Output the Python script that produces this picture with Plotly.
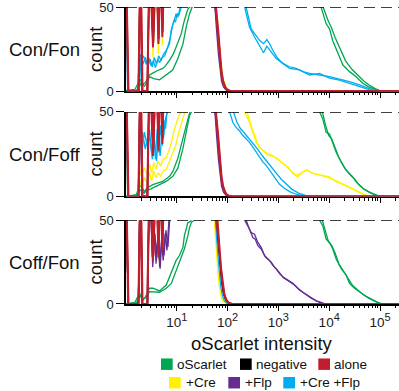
import plotly.graph_objects as go

# ---------------- data (intensity, count) ----------------
panels = ["Con/Fon", "Con/Foff", "Coff/Fon"]
legend_names = ["oScarlet", "negative", "alone", "+Cre", "+Flp", "+Cre +Flp"]
colors = {"oScarlet": "#00A651", "negative": "#000000", "alone": "#BE1E2D",
          "+Cre": "#FFF200", "+Flp": "#662D91", "+Cre +Flp": "#00AEEF"}
x_tick_vals = [10, 100, 1000, 10000, 100000]
x_tick_exp = ["1", "2", "3", "4", "5"]
y_tick_vals = [0, 50]

# ---- panel 1 : Con/Fon ----
p1_green_a_x = [1.0, 1.5, 1.75, 1.9, 2.1, 2.4, 2.69, 2.9, 3.5, 4.0, 5.3, 6.0, 7.2, 8.5, 9.7, 12.2, 14.1, 16.5, 19, 22, 6000, 6950, 8710, 10140, 11750, 14790, 18620, 25120, 33880, 45710, 61660, 85110, 104700, 250000]
p1_green_a_y = [0.5, 1, 5, 7, 4, 5, 8, 9.6, 11, 12, 13.5, 15, 18.4, 22, 26.3, 34, 42, 48.8, 50.5, 60, 60, 49.8, 40, 37, 30, 22.4, 15.5, 11.6, 8.6, 4.7, 2.4, 0.8, 0, 0]
p1_green_b_x = [1.0, 1.6, 1.85, 2.0, 2.3, 2.6, 2.9, 3.5, 4.57, 5.2, 6.17, 7.0, 8.3, 10.5, 13.2, 15.3, 17.8, 20, 23, 7000, 7600, 9500, 11000, 13000, 16500, 21000, 28000, 37000, 48000, 62000, 80000, 100000, 110000, 250000]
p1_green_b_y = [0, 0.5, 3, 5, 3, 5, 8.6, 7.5, 6.7, 8, 9.6, 11, 12.5, 19.4, 28, 38, 45.9, 49.8, 60, 60, 49.8, 42, 38, 32, 25, 18, 13, 9.5, 6, 3.5, 1.5, 0.3, 0, 0]
p1_black_x = [1.0, 1.1, 1.75, 1.92, 2.08, 2.65, 2.9, 3.4, 3.9, 4.35, 4.8, 5.2, 5.6, 50, 57.5, 63, 69, 74, 79, 87, 93, 105, 126, 250000]
p1_black_y = [80, 0, 0, 80, 0, 0, 80, 30, 80, 34, 80, 38, 80, 80, 50, 38, 22, 13, 6.5, 3, 1.2, 0.3, 0, 0]
p1_yellow_x = [1.0, 1.1, 1.75, 1.92, 2.08, 2.65, 2.9, 3.4, 3.9, 4.35, 4.8, 5.2, 5.6, 52, 60, 66, 72, 80, 88, 100, 120, 250000]
p1_yellow_y = [80, 0, 0, 80, 0, 0, 80, 20, 80, 22, 80, 27, 80, 80, 50, 35, 20, 9, 4, 1, 0, 0]
p1_purple_x = [1.0, 1.1, 1.75, 1.92, 2.08, 2.65, 2.9, 3.4, 3.9, 4.35, 4.8, 5.2, 5.6, 48, 55, 60, 66, 71, 76, 83, 92, 105, 250000]
p1_purple_y = [80, 0, 0, 80, 0, 0, 80, 27, 80, 29, 80, 33, 80, 80, 50, 38, 22, 12, 6, 2.5, 0.8, 0, 0]
p1_blue_a_x = [1.0, 1.08, 1.8, 1.95, 2.15, 2.4, 2.7, 3.0, 3.3, 3.6, 4.0, 4.4, 4.9, 5.5, 6.2, 7.2, 7.7, 8.4, 9.0, 9.7, 10.5, 11.3, 12.2, 14, 200, 232, 291, 365, 425, 509, 592, 668, 776, 975, 1222, 1656, 2239, 3027, 4093, 6442, 10140, 15960, 25120, 39540, 62090, 84140, 250000]
p1_blue_a_y = [80, 0, 0, 22, 16, 20, 15, 19, 14.5, 20, 16, 21, 18, 22, 24.3, 28.2, 36, 40, 44, 46, 44, 48, 50.5, 60, 60, 49.8, 37, 33.1, 30.2, 28.2, 30.6, 28.2, 24.3, 19.4, 16.5, 14.5, 13.5, 11.6, 10.6, 9.6, 8.6, 7.1, 5.7, 3.7, 1.2, 0, 0]
p1_blue_b_x = [1.0, 1.08, 1.8, 1.95, 2.2, 2.5, 2.8, 3.1, 3.45, 3.8, 4.2, 4.6, 5.1, 5.8, 6.6, 7.5, 8.1, 8.8, 9.4, 10.2, 11, 11.8, 12.8, 15, 180, 215, 270, 339, 425, 509, 592, 721, 904, 1222, 1656, 2600, 4093, 6442, 10140, 15960, 25120, 39810, 63100, 89000, 250000]
p1_blue_b_y = [80, 0, 0, 18, 21, 16, 20, 15, 18, 14, 19, 17, 20, 21, 26, 32, 38, 42, 41, 46, 45, 49, 52, 60, 60, 49.8, 38, 32.2, 27.3, 22.8, 26.7, 23.3, 19.4, 16.5, 13.5, 12.6, 9.6, 10.6, 7.7, 6.5, 4.5, 2.5, 0.8, 0, 0]
p1_red_a_x = [1.0, 1.1, 1.75, 1.92, 2.08, 2.65, 2.9, 3.4, 3.9, 4.35, 4.8, 5.2, 5.6, 50, 57.5, 63, 69, 74, 79, 87, 93, 105, 126, 250000]
p1_red_a_y = [80, 0, 0, 80, 0, 0, 80, 26, 80, 28, 80, 32, 80, 80, 50, 38, 22, 13, 6.5, 3, 1.2, 0.3, 0, 0]
p1_red_b_x = [1.0, 1.12, 1.78, 1.95, 2.12, 2.6, 2.95, 3.45, 3.95, 4.4, 4.85, 5.25, 5.7, 52, 59, 65, 71, 76, 82, 90, 98, 112, 130, 250000]
p1_red_b_y = [80, 0, 0, 80, 0, 0, 80, 29, 80, 31, 80, 35, 80, 80, 50, 37, 21, 12, 6, 2.5, 1, 0.2, 0, 0]

# ---- panel 2 : Con/Foff ----
p2_green_a_x = [1.0, 1.6, 1.85, 2.05, 2.3, 2.6, 2.9, 3.37, 5.3, 7.2, 8.35, 10.5, 12.2, 14.2, 16.5, 17.8, 22, 6000, 6442, 7499, 8710, 10140, 11750, 13710, 17220, 21580, 29170, 33960, 45920, 62090, 84140, 97700, 250000]
p2_green_a_y = [0, 1, 7, 5, 3, 5, 6, 7, 8.9, 11.9, 14.8, 22.6, 30.3, 38.1, 45.9, 50.7, 60, 60, 50.2, 45.7, 37.9, 36.9, 32, 26.2, 20.4, 15.5, 11.6, 8.7, 4.8, 2.5, 1.0, 0, 0]
p2_green_b_x = [1.0, 1.6, 1.85, 2.05, 2.3, 2.6, 2.9, 4.57, 6.17, 8.35, 10.5, 13.2, 15.3, 17.8, 20, 24, 6800, 7300, 8500, 9800, 11200, 13000, 15500, 19500, 24500, 32000, 38000, 50000, 66000, 88000, 105000, 250000]
p2_green_b_y = [0, 0.5, 4, 3, 2, 4, 4.1, 7, 8.9, 11.9, 16.7, 28.4, 38.1, 47.8, 50.7, 60, 60, 50.2, 42, 36, 34, 29, 23, 17.5, 13.5, 10, 7, 4, 2, 0.5, 0, 0]
p2_black_x = [1.0, 1.1, 1.75, 1.92, 2.08, 2.65, 2.9, 3.4, 3.9, 4.35, 4.8, 5.2, 5.6, 50, 57.5, 63, 69, 74, 79, 87, 93, 105, 126, 250000]
p2_black_y = [80, 0, 0, 80, 0, 0, 80, 30, 80, 34, 80, 38, 80, 80, 50, 38, 22, 13, 6.5, 3, 1.2, 0.3, 0, 0]
p2_yellow_a_x = [1.0, 1.08, 1.7, 1.85, 2.0, 2.3, 2.6, 2.9, 3.2, 3.5, 3.9, 4.3, 4.8, 5.4, 6.2, 7.0, 8.0, 9.0, 10.5, 12.2, 14, 180, 215, 270, 314, 365, 425, 494, 619, 776, 975, 1222, 1535, 1923, 2415, 3027, 3793, 4764, 5970, 7499, 10140, 13710, 18540, 25120, 33960, 45920, 53460, 67000, 250000]
p2_yellow_a_y = [80, 0, 0, 16, 12, 17, 13, 19, 14, 20, 16, 21, 18, 22, 23, 27, 33, 40, 46, 51, 60, 60, 50.2, 43.7, 37.9, 32, 29.1, 27.2, 24.3, 23.9, 22.3, 19.4, 17.5, 13.6, 11.6, 14.6, 15.5, 13.6, 13.0, 12.6, 11.6, 8.7, 7.2, 5.2, 3.3, 1.3, 0.4, 0, 0]
p2_yellow_b_x = [1.0, 1.08, 1.7, 1.85, 2.0, 2.3, 2.6, 2.9, 3.2, 3.5, 3.9, 4.3, 4.8, 5.4, 6.2, 7.0, 8.0, 9.5, 11, 13, 15.3, 18, 200, 240, 291, 339, 394, 458, 574, 721, 904, 1133, 1422, 1782, 2239, 2806, 3524, 4416, 5534, 7499, 10140, 13710, 18540, 25120, 33960, 45920, 57540, 72440, 250000]
p2_yellow_b_y = [80, 0, 0, 10, 6, 11, 8, 14, 9, 15, 11, 14, 12, 15, 16, 20, 24, 30, 38, 45, 51, 60, 60, 50.2, 42, 36, 31, 28, 26, 24.6, 22.5, 20.5, 18, 15, 12.5, 13.8, 15.8, 14, 13.2, 12.2, 11.0, 9.2, 7.5, 5.6, 3.6, 1.6, 0.4, 0, 0]
p2_purple_x = [1.0, 1.1, 1.75, 1.92, 2.08, 2.65, 2.9, 3.4, 3.9, 4.35, 4.8, 5.2, 5.6, 48, 55, 60, 66, 71, 76, 83, 92, 105, 250000]
p2_purple_y = [80, 0, 0, 80, 0, 0, 80, 27, 80, 29, 80, 33, 80, 80, 50, 38, 22, 12, 6, 2.5, 0.8, 0, 0]
p2_blue_a_x = [1.0, 1.08, 1.75, 1.9, 2.05, 2.3, 2.6, 2.9, 3.2, 3.5, 3.8, 4.1, 4.4, 4.8, 5.2, 5.6, 6.0, 6.5, 8, 90, 109, 127, 147, 171, 200, 232, 270, 314, 365, 425, 494, 574, 668, 776, 904, 1052, 1318, 1656, 2239, 3027, 4093, 250000]
p2_blue_a_y = [80, 0, 0, 34, 26, 38, 30, 40, 25, 36, 22, 40, 26, 42, 30, 45, 40, 52, 60, 60, 50.2, 43.7, 40.8, 38.9, 36, 34, 32, 29.1, 26.2, 23.3, 20.4, 18.4, 15.5, 12.6, 9.7, 7.2, 4.8, 2.9, 1.3, 0.4, 0, 0]
p2_blue_b_x = [1.0, 1.08, 1.75, 1.9, 2.1, 2.4, 2.7, 3.0, 3.3, 3.6, 4.0, 4.3, 4.7, 5.1, 5.5, 6.0, 6.8, 8.5, 110, 130, 152, 180, 214, 250, 291, 340, 400, 470, 560, 670, 800, 950, 1150, 1450, 1850, 2500, 3400, 4600, 250000]
p2_blue_b_y = [80, 0, 0, 30, 38, 28, 36, 33, 22, 34, 21, 36, 24, 38, 35, 46, 52, 60, 60, 50.2, 44, 40, 37.5, 35, 33, 30.5, 27.5, 24.5, 21.5, 19, 16, 13, 10, 7, 4.2, 2, 0.6, 0, 0]
p2_red_a_x = [1.0, 1.1, 1.75, 1.92, 2.08, 2.65, 2.9, 3.4, 3.9, 4.35, 4.8, 5.2, 5.6, 50, 57.5, 63, 69, 74, 79, 87, 93, 105, 126, 250000]
p2_red_a_y = [80, 0, 0, 80, 0, 0, 80, 24, 80, 27, 80, 31, 80, 80, 50, 38, 22, 13, 6.5, 3, 1.2, 0.3, 0, 0]
p2_red_b_x = [1.0, 1.12, 1.78, 1.95, 2.12, 2.6, 2.95, 3.45, 3.95, 4.4, 4.85, 5.25, 5.7, 52, 59, 65, 71, 76, 82, 90, 98, 112, 130, 250000]
p2_red_b_y = [80, 0, 0, 80, 0, 0, 80, 28, 80, 30, 80, 34, 80, 80, 50, 37, 21, 12, 6, 2.5, 1, 0.2, 0, 0]

# ---- panel 3 : Coff/Fon ----
p3_green_a_x = [1.0, 1.5, 1.85, 2.1, 2.4, 2.9, 3.4, 4.57, 6.2, 7.2, 8.4, 9.7, 11.3, 13.2, 14.1, 15.3, 16.5, 19, 22, 6000, 6442, 7499, 8710, 10140, 11750, 13710, 17220, 21580, 25120, 31480, 39540, 53460, 72270, 97700, 113800, 250000]
p3_green_a_y = [0, 1, 6.6, 2, 4, 9.4, 9.5, 7.8, 11.3, 16.2, 21, 26, 28.9, 33.8, 40.6, 45.5, 48.4, 49.4, 60, 60, 50, 46.5, 38.7, 36.7, 32.8, 26.9, 21.1, 17.2, 12.3, 9.4, 7.4, 4.5, 2.5, 0.4, 0, 0]
p3_green_b_x = [1.0, 1.6, 1.9, 2.15, 2.5, 2.9, 4.57, 6.2, 7.8, 9.0, 10.5, 12.2, 14.1, 16.5, 17.8, 19.5, 22.4, 26, 6800, 7300, 8300, 9700, 11200, 13000, 15500, 19500, 24000, 29000, 36000, 45000, 60000, 80000, 105000, 120000, 250000]
p3_green_b_y = [0, 0.5, 5, 3, 4, 7.4, 7, 9.4, 12.3, 17.2, 23, 27, 32.8, 40.6, 45.5, 48.8, 50, 60, 60, 50, 44, 37, 35, 30.5, 24, 19, 14.5, 11, 8.5, 6, 3.5, 1.5, 0.2, 0, 0]
p3_black_x = [1.0, 1.1, 1.75, 1.92, 2.08, 2.65, 2.9, 3.4, 3.9, 4.35, 4.8, 5.2, 5.6, 50, 58, 64, 70, 76, 82, 90, 98, 110, 130, 250000]
p3_black_y = [80, 0, 0, 80, 0, 0, 80, 30, 80, 34, 80, 38, 80, 80, 50, 38, 22, 13, 6.5, 3, 1.2, 0.3, 0, 0]
p3_yellow_x = [1.0, 1.1, 1.75, 1.92, 2.08, 2.65, 2.9, 3.4, 3.9, 4.35, 4.8, 5.2, 5.6, 47, 54, 59, 64, 69, 75, 82, 92, 105, 250000]
p3_yellow_y = [80, 0, 0, 80, 0, 0, 80, 24, 80, 26, 80, 30, 80, 80, 50, 36, 20, 10, 4, 1.5, 0.3, 0, 0]
p3_blue_x = [1.0, 1.1, 1.75, 1.92, 2.08, 2.65, 2.9, 3.4, 3.9, 4.35, 4.8, 5.2, 5.6, 50, 57, 62, 68, 73, 79, 86, 96, 110, 250000]
p3_blue_y = [80, 0, 0, 80, 0, 0, 80, 25, 80, 27, 80, 31, 80, 80, 50, 36, 21, 11, 5, 2, 0.5, 0, 0]
p3_purple_a_x = [1.0, 1.1, 1.75, 1.92, 2.08, 2.65, 2.9, 3.3, 3.6, 3.9, 4.3, 4.6, 5.0, 5.4, 5.9, 6.4, 7.0, 7.6, 9, 190, 215, 250, 291, 339, 365, 394, 458, 532, 668, 776, 904, 1052, 1222, 1535, 1923, 2415, 3027, 4093, 5534, 7499, 10140, 250000]
p3_purple_a_y = [80, 0, 0, 80, 0, 0, 80, 28, 45, 24, 40, 22, 38, 26, 42, 32, 50, 55, 60, 60, 50, 46.5, 42.6, 41.6, 38.7, 36.7, 33.8, 28.9, 26, 23, 21.1, 18.1, 16.2, 14.2, 12.3, 9.4, 7, 4.5, 1.9, 0.4, 0, 0]
p3_purple_b_x = [1.0, 1.1, 1.75, 1.92, 2.08, 2.65, 2.9, 3.35, 3.7, 4.0, 4.4, 4.7, 5.1, 5.6, 6.1, 6.7, 7.3, 9, 200, 232, 270, 314, 349, 394, 458, 557, 721, 838, 1021, 1259, 1604, 2075, 2600, 3266, 4416, 5970, 8072, 10960, 250000]
p3_purple_b_y = [80, 0, 0, 80, 0, 0, 80, 22, 42, 30, 46, 21, 40, 29, 44, 34, 52, 60, 60, 50, 44.5, 39.6, 38.7, 34.8, 32.8, 27.9, 25, 22, 19.1, 15.6, 13.6, 11.3, 8.4, 6.2, 3.5, 1.5, 0.2, 0, 0]
p3_red_a_x = [1.0, 1.1, 1.75, 1.92, 2.08, 2.65, 2.9, 3.4, 3.9, 4.35, 4.8, 5.2, 5.6, 52, 60, 66, 72, 78, 85, 93, 103, 120, 250000]
p3_red_a_y = [80, 0, 0, 80, 0, 0, 80, 26, 80, 28, 80, 32, 80, 80, 50, 38, 23, 13, 6, 2.5, 0.8, 0, 0]
p3_red_b_x = [1.0, 1.12, 1.78, 1.95, 2.12, 2.6, 2.95, 3.45, 3.95, 4.4, 4.85, 5.25, 5.7, 54, 62, 68, 74, 80, 87, 96, 106, 124, 250000]
p3_red_b_y = [80, 0, 0, 80, 0, 0, 80, 29, 80, 31, 80, 35, 80, 80, 50, 37, 22, 12, 5.5, 2.2, 0.7, 0, 0]

panel_traces = [
    [("negative", p1_black_x, p1_black_y), ("oScarlet", p1_green_a_x, p1_green_a_y), ("oScarlet", p1_green_b_x, p1_green_b_y),
     ("+Cre", p1_yellow_x, p1_yellow_y), ("+Flp", p1_purple_x, p1_purple_y),
     ("+Cre +Flp", p1_blue_a_x, p1_blue_a_y), ("+Cre +Flp", p1_blue_b_x, p1_blue_b_y),
     ("alone", p1_red_a_x, p1_red_a_y), ("alone", p1_red_b_x, p1_red_b_y)],
    [("negative", p2_black_x, p2_black_y), ("oScarlet", p2_green_a_x, p2_green_a_y), ("oScarlet", p2_green_b_x, p2_green_b_y),
     ("+Cre", p2_yellow_a_x, p2_yellow_a_y), ("+Cre", p2_yellow_b_x, p2_yellow_b_y), ("+Flp", p2_purple_x, p2_purple_y),
     ("+Cre +Flp", p2_blue_a_x, p2_blue_a_y), ("+Cre +Flp", p2_blue_b_x, p2_blue_b_y),
     ("alone", p2_red_a_x, p2_red_a_y), ("alone", p2_red_b_x, p2_red_b_y)],
    [("negative", p3_black_x, p3_black_y), ("oScarlet", p3_green_a_x, p3_green_a_y), ("oScarlet", p3_green_b_x, p3_green_b_y),
     ("+Cre", p3_yellow_x, p3_yellow_y), ("+Cre +Flp", p3_blue_x, p3_blue_y),
     ("+Flp", p3_purple_a_x, p3_purple_a_y), ("+Flp", p3_purple_b_x, p3_purple_b_y),
     ("alone", p3_red_a_x, p3_red_a_y), ("alone", p3_red_b_x, p3_red_b_y)],
]

# ---------------- layout helpers ----------------
FIG_W, FIG_H = 399, 391
L, R, T, B = 126, 0, 3, 87
W, H = FIG_W - L - R, FIG_H - T - B
FONT = "Liberation Sans, Arial, sans-serif"


def px_x(px):
    return (px - L) / W


def px_y(py):
    return 1 - (py - T) / H


domains = [[px_y(88.3), 1.0], [px_y(195), px_y(109.3)], [0.0, px_y(219)]]
row_label_y = [46, 152, 262]
panel_mid_y = [46, 152, 261.5]
x_tick_text = ['10<sup><span style="font-size:11px">%s</span></sup>' % e for e in x_tick_exp]

fig = go.Figure()
for i, traces in enumerate(panel_traces):
    n = "" if i == 0 else str(i + 1)
    for name, xs, ys in traces:
        fig.add_trace(go.Scatter(
            x=xs, y=ys, mode="lines", xaxis="x" + n, yaxis="y" + n,
            line=dict(color=colors[name], width=1.9 if name == "alone" else 1.3),
            showlegend=False, hoverinfo="skip"))

minor_vals = [m * 10 ** e for e in range(0, 6) for m in range(2, 10)]
layout = dict(width=FIG_W, height=FIG_H, margin=dict(l=L, r=R, t=T, b=B),
              paper_bgcolor="white", plot_bgcolor="white", showlegend=False,
              font=dict(family=FONT, color="#1a1a1a", size=13))
for i in range(3):
    n = "" if i == 0 else str(i + 1)
    xa = dict(
        type="log", range=[0, 5.374], anchor="y" + n, domain=[0, 1],
        showline=True, linecolor="black", linewidth=1.5, layer="below traces",
        ticks="outside", ticklen=5, tickwidth=1.2, tickcolor="black",
        tickmode="array", tickvals=x_tick_vals,
        showgrid=False, zeroline=False,
        minor=dict(ticks="outside", ticklen=2.5, tickwidth=1, tickcolor="black",
                   tickmode="array", tickvals=minor_vals, showgrid=False))
    if i == 2:
        xa.update(ticktext=x_tick_text, showticklabels=True,
                  tickfont=dict(size=13.5, color="#1a1a1a"))
    else:
        xa.update(showticklabels=False)
    layout["xaxis" + n] = xa
    layout["yaxis" + n] = dict(
        range=[0, 50], domain=domains[i], anchor="x" + n,
        showline=True, linecolor="black", linewidth=1.5, layer="below traces",
        ticks="outside", ticklen=8, tickwidth=1.2, tickcolor="black",
        tickmode="array", tickvals=y_tick_vals, showgrid=False, zeroline=False,
        ticklabeloverflow="allow",
        tickfont=dict(size=13, color="#1a1a1a"))
fig.update_layout(**layout)

shapes = []
annotations = []
for i in range(3):
    n = "" if i == 0 else str(i + 1)
    shapes.append(dict(type="line", xref="x" + n + " domain", yref="y" + n,
                       x0=0, x1=1, y0=50, y1=50, layer="above",
                       line=dict(color="black", width=1.5, dash="11px,6px")))
    annotations.append(dict(text=panels[i], xref="paper", yref="paper",
                            x=px_x(44.7), y=px_y(row_label_y[i]), xanchor="center", yanchor="middle",
                            showarrow=False, font=dict(size=18.5, color="#111")))
    annotations.append(dict(text="count", xref="paper", yref="paper", textangle=-90,
                            x=px_x(95.5), y=px_y(panel_mid_y[i]), xanchor="center", yanchor="middle",
                            showarrow=False, font=dict(size=18.5, color="#111")))
annotations.append(dict(text="oScarlet intensity", xref="paper", yref="paper",
                        x=px_x(262), y=px_y(344), xanchor="center", yanchor="middle",
                        showarrow=False, font=dict(size=18.5, color="#111")))

# legend (two centred rows of coloured squares)
legend_pos = [  # square left px, text left px, centre y px
    (161, 176, 365), (240, 255, 365), (318.3, 333.3, 365),
    (169, 185, 383.8), (228.3, 244, 383.8), (283.3, 299, 383.8)]
for name, (sx, tx, cy) in zip(legend_names, legend_pos):
    shapes.append(dict(type="rect", xref="paper", yref="paper",
                       x0=px_x(sx), x1=px_x(sx + 11.7), y0=px_y(cy + 5.8), y1=px_y(cy - 5.8),
                       fillcolor=colors[name], line=dict(width=0)))
    annotations.append(dict(text=name, xref="paper", yref="paper", x=px_x(tx), y=px_y(cy),
                            xanchor="left", yanchor="middle", showarrow=False,
                            xshift=-1, font=dict(size=13.5, color="#111")))

fig.update_layout(shapes=shapes, annotations=annotations)
fig.write_html("out.html")
